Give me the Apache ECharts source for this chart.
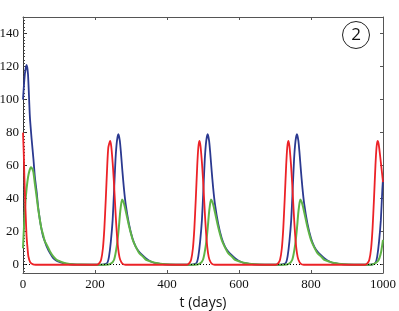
<!DOCTYPE html>
<html><head><meta charset="utf-8">
<script src="https://cdn.jsdelivr.net/npm/echarts@6/dist/echarts.min.js"></script>
<style>html,body{margin:0;padding:0;background:#fff}#c{width:399px;height:311px}</style>
</head><body><div id="c"></div>
<script>
// ---- data ----
const xTicks = [0, 200, 400, 600, 800, 1000];
const yTicks = [0, 20, 40, 60, 80, 100, 120, 140];
const panelLabel = '2';
const xTitle = 't (days)';

const red = [
  [0,80],[2,68],[4,52],[6,39],[8,27],[10,17],[13,9],[15,5],[20,1.5],[28,0.2],[35,0],
  [205,0],[212,1],[217,3],[222,10],[226,22],[230,40],[234,60],[237,71],[242,75],[245,72],[249,62],[252,52],[255,40],[258,28],[262,15],[266,7],[270,3],[277,0.5],[285,0],
  [455,0],[462,1],[467,3],[472,10],[476,22],[480,40],[484,60],[487,71],[490,75],[493,72],[497,62],[500,52],[503,40],[506,28],[510,15],[514,7],[518,3],[525,0.5],[533,0],
  [702,0],[709,1],[714,3],[719,10],[723,22],[727,40],[731,60],[734,71],[737,75],[740,72],[744,62],[747,52],[750,40],[753,28],[757,15],[761,7],[765,3],[772,0.5],[780,0],
  [950,0],[957,1],[962,3],[967,10],[971,22],[975,40],[979,60],[982,71],[985,75],[988,73],[992,66],[996,58],[1000,50]
];
const blue = [
  [0,100],[3,110],[6,117],[10,121],[14,115],[19,90],[24,76],[29,64],[33,53],[38,44],[42,35],[47,27],[51,22],[56,17],[61,14],[66,11],[75,7],[84,4],[93,2.5],[103,1.5],[115,0.7],[130,0.3],[150,0.05],[180,0],
  [220,0],[230,0.5],[235,1.5],[239,5],[244,14],[249,27],[253,45],[257,64],[261,75],[265,79],[269,75],[272,68],[276,57],[280,47],[285,37],[294,25],[304,16],[313,11],[322,8],[331,6],[341,4],[355,2],[369,1],[395,0.2],[425,0],
  [468,0],[478,0.5],[483,1.5],[487,5],[492,14],[497,27],[501,45],[505,64],[509,75],[513,79],[517,75],[520,68],[524,57],[528,47],[533,37],[542,25],[552,16],[561,11],[570,8],[579,6],[589,4],[603,2],[617,1],[643,0.2],[673,0],
  [716,0],[726,0.5],[731,1.5],[735,5],[740,14],[745,27],[749,45],[753,64],[757,75],[761,79],[765,75],[768,68],[772,57],[776,47],[781,37],[790,25],[800,16],[809,11],[818,8],[827,6],[837,4],[851,2],[865,1],[891,0.2],[921,0],
  [965,0],[975,0.5],[980,1.5],[984,5],[989,14],[994,27],[998,45],[1000,52]
];
const green = [
  [0,10],[3,24],[6,36],[10,46],[14,53],[18,57],[22,59],[26,58],[29,56],[33,49],[38,41],[42,34],[47,27],[51,22],[56,18],[61,14],[66,12],[75,8],[84,5],[93,3],[103,2],[115,1],[130,0.5],[160,0.1],[190,0],
  [230,0],[243,0.5],[253,3],[261,12],[266,22],[270,32],[275,39.5],[279,38],[283,35],[287,31],[295,23],[305,15],[313,11],[323,7],[333,5],[342,3],[355,2],[370,1],[395,0.3],[425,0],
  [477,0],[490,0.5],[500,3],[508,12],[513,22],[517,32],[522,39.5],[526,38],[530,35],[534,31],[542,23],[552,15],[560,11],[570,7],[580,5],[589,3],[602,2],[617,1],[642,0.3],[672,0],
  [725,0],[738,0.5],[748,3],[756,12],[761,22],[765,32],[770,39.5],[774,38],[778,35],[782,31],[790,23],[800,15],[808,11],[818,7],[828,5],[837,3],[850,2],[865,1],[890,0.3],[920,0],
  [965,0],[975,0.5],[985,2],[990,4],[995,8],[1000,15]
];

// ---- chart ----
const serif = 'Liberation Serif';
const sans = 'Open Sans';
const frame = '#555';
const minorY = [];
for (let v = -4; v <= 150; v += 2) minorY.push(v);

const chart = echarts.init(document.getElementById('c'), null, {renderer: 'canvas'});
function line(name, data, color, width, z) {
  return {
    name, type: 'line', data, showSymbol: false, symbol: 'none',
    smooth: 0.2, z,
    lineStyle: {color, width}, animation: false
  };
}
const series = [
  line('blue', blue, '#2b3990', 1.8, 3),
  line('green', green, '#5fb446', 2, 4),
  line('red', red, '#ec2227', 1.8, 5)
];
series[0].markLine = {
  silent: true, symbol: 'none', animation: false,
  label: {show: false},
  lineStyle: {color: '#000', type: [1, 2], width: 1},
  data: [{yAxis: 0}]
};
function tickLabel(extra) {
  return Object.assign({
    show: true, fontFamily: serif, fontSize: 13, color: '#111',
    formatter: v => String(v)
  }, extra);
}
chart.setOption({
  animation: false,
  backgroundColor: '#fff',
  grid: {left: 23, right: 16, top: 17, bottom: 38, show: false, containLabel: false, outerBoundsMode: 'none'},
  xAxis: [
    {
      type: 'value', min: 0, max: 1000, position: 'bottom',
      name: xTitle, nameLocation: 'middle', nameGap: 16,
      nameTextStyle: {fontFamily: sans, fontSize: 14, color: '#111'},
      axisLine: {show: true, onZero: false, lineStyle: {color: frame, width: 1}},
      axisTick: {show: true, inside: true, length: 3, customValues: xTicks, lineStyle: {color: frame}},
      axisLabel: tickLabel({margin: 5, customValues: xTicks}),
      splitLine: {show: false}
    },
    {
      type: 'value', min: 0, max: 1000, position: 'top',
      axisLine: {show: true, onZero: false, lineStyle: {color: frame, width: 1}},
      axisTick: {show: true, inside: true, length: 3, customValues: xTicks, lineStyle: {color: frame}},
      axisLabel: {show: false}, splitLine: {show: false}
    }
  ],
  yAxis: [
    {
      type: 'value', min: -5, max: 150, position: 'left',
      axisLine: {show: true, onZero: false, lineStyle: {color: '#333', width: 1}},
      axisTick: {show: true, inside: true, length: 4, customValues: yTicks, lineStyle: {color: '#333'}},
      axisLabel: tickLabel({margin: 4, customValues: yTicks}),
      splitLine: {show: false}
    },
    {
      type: 'value', min: -5, max: 150, position: 'right',
      axisLine: {show: true, onZero: false, lineStyle: {color: frame, width: 1}},
      axisTick: {show: true, inside: true, length: 3, customValues: yTicks, lineStyle: {color: frame}},
      axisLabel: {show: false}, splitLine: {show: false}
    },
    {
      type: 'value', min: -5, max: 150, position: 'left',
      axisLine: {show: false},
      axisTick: {show: true, inside: true, length: 2, customValues: minorY, lineStyle: {color: '#444'}},
      axisLabel: {show: false}, splitLine: {show: false}
    }
  ],
  graphic: [
    {type: 'circle', shape: {cx: 356, cy: 35, r: 13.5}, style: {fill: 'none', stroke: '#222', lineWidth: 1}},
    {type: 'text', x: 356, y: 35, style: {text: panelLabel, font: "17px 'Open Sans', sans-serif", fill: '#111', align: 'center', verticalAlign: 'middle'}}
  ],
  series
});
</script></body></html>
